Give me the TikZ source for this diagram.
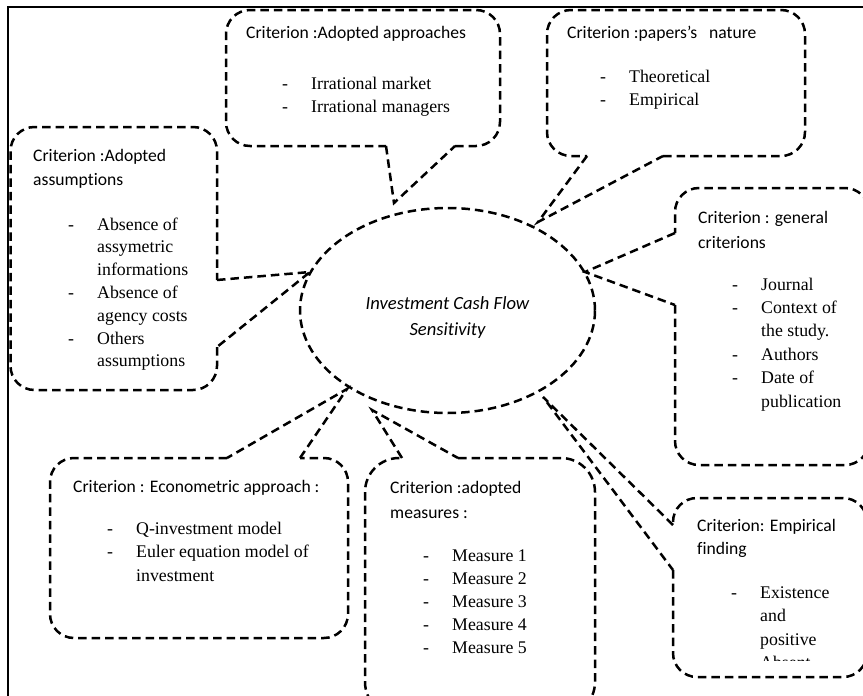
\documentclass[tikz,border=0pt]{standalone}
\usepackage{fontspec}
\setmainfont{Liberation Serif}
\newfontfamily\calfont[Ligatures={NoCommon}]{Carlito}
\usetikzlibrary{shapes.geometric}
\tikzset{
  dsh/.style={line width=2.5pt, dash pattern=on 8.5pt off 5pt},
  bub/.style={dsh, rounded corners=24pt},
  ttl/.style={font=\calfont\fontsize{17.6}{22}\selectfont, anchor=base west, inner sep=0pt},
  itm/.style={font=\fontsize{17.8}{22}\selectfont, anchor=base west, inner sep=0pt},
  ctr/.style={font=\calfont\itshape\fontsize{18.6}{26}\selectfont, align=center, inner sep=0pt},
}
\newcommand\dsh[1]{\makebox[29pt][l]{-}#1}
\newcommand\nodsh[1]{\hspace*{29pt}#1}
\begin{document}
\begin{tikzpicture}[x=1pt,y=-1pt]
\useasboundingbox (0,0) rectangle (863,696);
\clip (0,0) rectangle (863,696);
\fill[white] (0,0) rectangle (863,696);
% frame
\draw[line width=1.4pt] (8,710) -- (8,7) -- (875,7);

% central ellipse
\node[ellipse, draw, dsh, minimum width=295pt, minimum height=205pt, inner sep=0pt] (ell) at (447.5,310.5) {};
\node[ctr] (elltxt) at (447.5,318) {Investment Cash Flow\\Sensitivity};

% 1 adopted approaches
\draw[bub] (455,146) -- (500,146) -- (500,10) -- (226,10) -- (226,146) -- (386,146);
\draw[dsh] (386,146) -- (394,203) -- (455,146);
\node[ttl] (a0) at (246,38) {Criterion :Adopted approaches};
\node[itm] (a1) at (282,89) {\dsh{Irrational market}};
\node[itm] (a2) at (282,112) {\dsh{Irrational managers}};

% 2 papers's nature
\draw[bub] (663,156) -- (805,156) -- (805,10) -- (547,10) -- (547,156) -- (587,156);
\draw[dsh] (587,156) -- (538,222) -- (663,156);
\node[ttl] (b0) at (567,38) {Criterion :papers’s\ \ \ nature};
\node[itm] (b1) at (600,82) {\dsh{Theoretical}};
\node[itm] (b2) at (600,105) {\dsh{Empirical}};

% 3 adopted assumptions
\draw[bub] (217,347) -- (217,390) -- (10.5,390) -- (10.5,127) -- (217,127) -- (217,280);
\draw[dsh] (217,280) -- (310,272) -- (217,347);
\node[ttl] (c0) at (33,161) {Criterion :Adopted};
\node[ttl] (c1) at (33,185) {assumptions};
\node[itm] (c2) at (68,230) {\dsh{Absence of}};
\node[itm] (c3) at (68,252.8) {\nodsh{assymetric}};
\node[itm] (c4) at (68,275.6) {\nodsh{informations}};
\node[itm] (c5) at (68,298.4) {\dsh{Absence of}};
\node[itm] (c6) at (68,321.2) {\nodsh{agency costs}};
\node[itm] (c7) at (68,344) {\dsh{Others}};
\node[itm] (c8) at (68,366.8) {\nodsh{assumptions}};

% 4 general criterions
\draw[bub] (675,305) -- (675,465) -- (869,465) -- (869,188) -- (675,188) -- (675,233);
\draw[dsh] (675,233) -- (585,272) -- (675,305);
\node[ttl] (d0) at (698,223) {Criterion : general};
\node[ttl] (d1) at (698,248) {criterions};
\node[itm] (d2) at (732,290) {\dsh{Journal}};
\node[itm] (d3) at (732,313.4) {\dsh{Context of}};
\node[itm] (d4) at (732,336.8) {\nodsh{the study.}};
\node[itm] (d5) at (732,360.2) {\dsh{Authors}};
\node[itm] (d6) at (732,383.6) {\dsh{Date of}};
\node[itm] (d7) at (732,407) {\nodsh{publication}};

% 5 econometric approach
\draw[bub] (227,458) -- (50,458) -- (50,638) -- (348,638) -- (348,458) -- (300,458);
\draw[dsh] (300,458) -- (347,389) -- (227,458);
\node[ttl] (e0) at (73,492) {Criterion : Econometric approach :};
\node[itm] (e1) at (107,534) {\dsh{Q-investment model}};
\node[itm] (e2) at (107,557.5) {\dsh{Euler equation model of}};
\node[itm] (e3) at (107,581) {\nodsh{investment}};

% 6 adopted measures
\draw[bub, rounded corners=34pt] (458,458) -- (595,458) -- (595,716) -- (365,716) -- (365,458) -- (402,458);
\draw[dsh] (402,458) -- (372,410) -- (458,458);
\node[ttl] (f0) at (390,493) {Criterion :adopted};
\node[ttl] (f1) at (390,518) {measures :};
\node[itm] (f2) at (423,561) {\dsh{Measure 1}};
\node[itm] (f3) at (423,584.2) {\dsh{Measure 2}};
\node[itm] (f4) at (423,607.4) {\dsh{Measure 3}};
\node[itm] (f5) at (423,630.6) {\dsh{Measure 4}};
\node[itm] (f6) at (423,653.8) {\dsh{Measure 5}};

% 7 empirical finding
\draw[bub] (673,570) -- (673,677) -- (867,677) -- (867,498) -- (673,498) -- (673,525);
\draw[dsh] (673,525) -- (543,397) -- (673,570);
\node[ttl] (g0) at (697,531) {Criterion: Empirical};
\node[ttl] (g1) at (697,554) {finding};
\node[itm] (g2) at (731,598) {\dsh{Existence}};
\node[itm] (g3) at (731,621.5) {\nodsh{and}};
\node[itm] (g4) at (731,645) {\nodsh{positive}};
\begin{scope}
\clip (690,600) rectangle (860,660);
\node[itm] (g5) at (731,668) {\dsh{Absent}};
\end{scope}
\end{tikzpicture}
\end{document}
